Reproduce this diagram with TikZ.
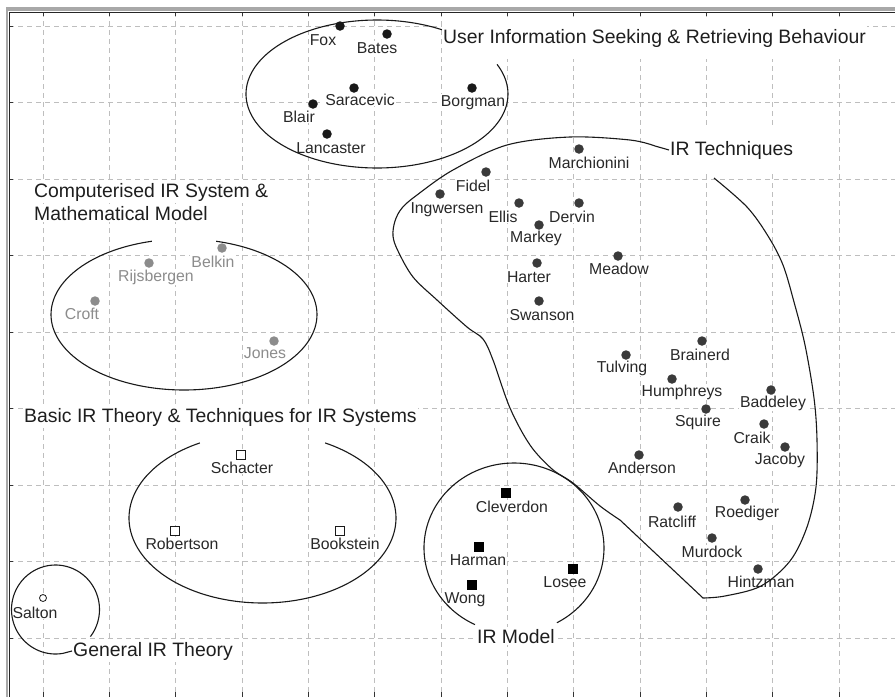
\documentclass[tikz,border=0pt]{standalone}
\usepackage{fontspec}
\setmainfont{Liberation Sans}
\definecolor{gridcol}{RGB}{190,190,190}
\definecolor{framegray}{RGB}{168,168,168}
\definecolor{dotdark}{RGB}{58,58,58}
\definecolor{namecol}{RGB}{40,40,40}
\definecolor{grayname}{RGB}{140,140,140}
\definecolor{graydot}{RGB}{140,140,140}
\definecolor{titlecol}{RGB}{30,30,30}
\tikzset{
  gridline/.style={draw=gridcol, line width=0.8pt, dash pattern=on 5pt off 4pt},
  tickline/.style={draw=black!80, line width=1pt},
  curve/.style={draw=black!90, line width=1.1pt},
  dotb/.style={circle, fill=black!90, inner sep=0pt, minimum size=9.5pt},
  dotd/.style={circle, fill=dotdark, inner sep=0pt, minimum size=9.5pt},
  dotg/.style={circle, fill=graydot, inner sep=0pt, minimum size=9.5pt},
  sqopen/.style={rectangle, draw=black!90, fill=white, line width=0.9pt, inner sep=0pt, minimum size=8.5pt},
  sqfill/.style={rectangle, fill=black, inner sep=0pt, minimum size=9.5pt},
  circopen/.style={circle, draw=black!90, line width=0.8pt, fill=white, inner sep=0pt, minimum size=7pt},
  nmlabel/.style={font=\fontsize{15.8}{18}\selectfont, text=namecol, fill=white, inner sep=1pt, anchor=base},
  gnmlabel/.style={nmlabel, text=grayname},
  ttlabel/.style={font=\fontsize{19.4}{23}\selectfont, text=titlecol, fill=white, inner xsep=1pt, inner ysep=2pt, anchor=base west},
  topttlabel/.style={ttlabel, inner ysep=12pt},
}
\begin{document}
\begin{tikzpicture}[x=1pt,y=-1pt]
\useasboundingbox (0,0) rectangle (895,697);
\fill[white] (0,0) rectangle (895,697);
% grid
\foreach \i in {0,...,12} {
  \draw[gridline] ({43+66.333*\i},12) -- ({43+66.333*\i},697);
  \draw[tickline] ({43+66.333*\i},12) -- ({43+66.333*\i},16);
  \draw[tickline] ({43+66.333*\i},697) -- ({43+66.333*\i},692);
}
\foreach \j in {0,...,8} {
  \draw[gridline] (9,{26+76.5*\j}) -- (895,{26+76.5*\j});
  \draw[tickline] (9,{26+76.5*\j}) -- (13,{26+76.5*\j});
}
% frame
\fill[framegray] (6,7) rectangle (895,11);
\fill[framegray] (6,7) rectangle (8.4,697);
\draw[line width=1.3pt, black!85] (9.5,697) -- (9.5,12.3) -- (895,12.3);

% titles
\node[topttlabel] (tuser) at (442,43) {User Information Seeking \& Retrieving Behaviour};
\node[topttlabel] (irtech) at (669,155) {IR Techniques};
\node[ttlabel] (tcomp1) at (33,197) {Computerised IR System \&};
\node[ttlabel] (tcomp2) at (33,220) {Mathematical Model};
\node[ttlabel] (tbasic) at (23,422) {Basic IR Theory \& Techniques for IR Systems};
\node[ttlabel] (genir) at (72,656) {General IR Theory};
\node[ttlabel, anchor=base] (irmodel) at (516,643) {IR Model};

% labels: User Information group
\node[nmlabel] (l-fox) at (323,45) {Fox};
\node[nmlabel] (l-bates) at (377,53) {Bates};
\node[nmlabel] (l-sar) at (360,105) {Saracevic};
\node[nmlabel] (l-blair) at (299,122) {Blair};
\node[nmlabel] (l-lanc) at (331,153) {Lancaster};
\node[nmlabel] (l-borg) at (473,106) {Borgman};
% Computerised group
\node[gnmlabel] (l-rijs) at (156,281) {Rijsbergen};
\node[gnmlabel] (l-belk) at (213,267) {Belkin};
\node[gnmlabel] (l-croft) at (82,319) {Croft};
\node[gnmlabel] (l-jones) at (265,358) {Jones};
% Basic group
\node[nmlabel] (l-scha) at (242,473) {Schacter};
\node[nmlabel] (l-robe) at (182,549) {Robertson};
\node[nmlabel] (l-book) at (345,549) {Bookstein};
\node[nmlabel] (l-salt) at (35,618) {Salton};
% IR Model group
\node[nmlabel] (l-clev) at (512,512) {Cleverdon};
\node[nmlabel] (l-harm) at (478,565) {Harman};
\node[nmlabel] (l-wong) at (465,603) {Wong};
\node[nmlabel] (l-lose) at (565,587) {Losee};
% IR Techniques group
\node[nmlabel] (l-ingw) at (447,213) {Ingwersen};
\node[nmlabel] (l-fide) at (473,191) {Fidel};
\node[nmlabel] (l-elli) at (503,222) {Ellis};
\node[nmlabel] (l-derv) at (572,222) {Dervin};
\node[nmlabel] (l-mark) at (536,242) {Markey};
\node[nmlabel] (l-marc) at (589,168) {Marchionini};
\node[nmlabel] (l-hart) at (529,282) {Harter};
\node[nmlabel] (l-mead) at (619,274) {Meadow};
\node[nmlabel] (l-swan) at (542,320) {Swanson};
\node[nmlabel] (l-brai) at (700,360) {Brainerd};
\node[nmlabel] (l-tulv) at (622,372) {Tulving};
\node[nmlabel] (l-hump) at (682,396) {Humphreys};
\node[nmlabel] (l-badd) at (773,407) {Baddeley};
\node[nmlabel] (l-squi) at (698,426) {Squire};
\node[nmlabel] (l-crai) at (752,443) {Craik};
\node[nmlabel] (l-jaco) at (780,464) {Jacoby};
\node[nmlabel] (l-ande) at (642,473) {Anderson};
\node[nmlabel] (l-roed) at (747,517) {Roediger};
\node[nmlabel] (l-ratc) at (672,527) {Ratcliff};
\node[nmlabel] (l-murd) at (712,557) {Murdock};
\node[nmlabel] (l-hint) at (761,587) {Hintzman};

% markers
\node[dotb] (d-fox) at (340,26) {};
\node[dotb] (d-bates) at (387,34) {};
\node[dotb] (d-sar) at (354,88) {};
\node[dotb] (d-blair) at (313,104) {};
\node[dotb] (d-lanc) at (327,134) {};
\node[dotb] (d-borg) at (472,88) {};
\node[dotg] (d-rijs) at (149,263) {};
\node[dotg] (d-belk) at (222,248) {};
\node[dotg] (d-croft) at (95,301) {};
\node[dotg] (d-jones) at (274,341) {};
\node[sqopen] (d-scha) at (241,455) {};
\node[sqopen] (d-robe) at (175,531) {};
\node[sqopen] (d-book) at (340,531) {};
\node[circopen] (d-salt) at (43,598) {};
\node[sqfill] (d-clev) at (506,493) {};
\node[sqfill] (d-harm) at (479,547) {};
\node[sqfill] (d-wong) at (472,585) {};
\node[sqfill] (d-lose) at (573,569) {};
\node[dotd] (d-ingw) at (440,194) {};
\node[dotd] (d-fide) at (486,172) {};
\node[dotd] (d-elli) at (519,203) {};
\node[dotd] (d-derv) at (579,203) {};
\node[dotd] (d-mark) at (539,225) {};
\node[dotd] (d-marc) at (579,149) {};
\node[dotd] (d-hart) at (537,263) {};
\node[dotd] (d-mead) at (618,256) {};
\node[dotd] (d-swan) at (539,301) {};
\node[dotd] (d-brai) at (702,341) {};
\node[dotd] (d-tulv) at (626,355) {};
\node[dotd] (d-hump) at (672,379) {};
\node[dotd] (d-badd) at (771,390) {};
\node[dotd] (d-squi) at (706,409) {};
\node[dotd] (d-crai) at (764,424) {};
\node[dotd] (d-jaco) at (785,447) {};
\node[dotd] (d-ande) at (639,455) {};
\node[dotd] (d-roed) at (745,500) {};
\node[dotd] (d-ratc) at (678,507) {};
\node[dotd] (d-murd) at (712,538) {};
\node[dotd] (d-hint) at (758,569) {};

% cluster outlines
\draw[curve] plot[domain=-23.6:299.7, samples=140, smooth] ({377+131*cos(\x)},{94+74*sin(\x)});
\draw[curve] plot[domain=284:616, samples=140, smooth] ({184+133*cos(\x)},{314.5+75.5*sin(\x)});
\draw[curve] plot[domain=298:602, samples=140, smooth] ({262.5+133.5*cos(\x)},{518+85*sin(\x)});
\draw[curve] plot[domain=115.7:421.5, samples=140, smooth] ({514+90*cos(\x)},{548+85*sin(\x)});
\draw[curve] (genir.west) -- plot[domain=80:397.5, samples=100, smooth] ({55.5+44*cos(\x)},{609.5+44.5*sin(\x)});
\draw[curve] plot[smooth, tension=0.55] coordinates {(714,178) (747,207) (768,236) (783,265) (794,302) (805,345) (814,398) (817,440) (816,487) (807,527) (790,561) (761,586) (725,596) (703,598)}
  -- plot[smooth, tension=0.55] coordinates {(620,520) (600,506) (573,483) (552,469) (530,445) (510,408) (493,360) (483,339) (467,327) (437,300) (413,277) (398,251) (393,236) (395,221) (402,208) (417,195) (453,170) (507,145) (570,137) (630,140) (655,146)}
  -- (irtech.west);
\end{tikzpicture}
\end{document}
